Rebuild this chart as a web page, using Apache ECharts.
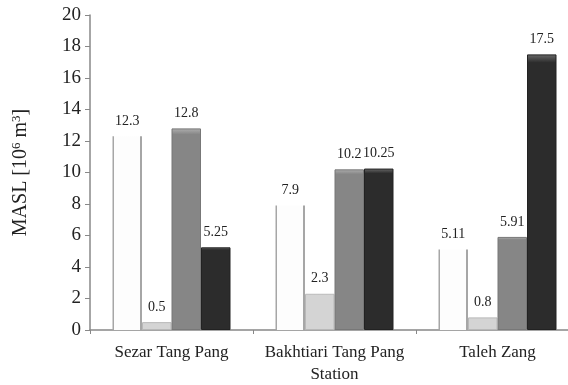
<!DOCTYPE html>
<html>
<head>
<meta charset="utf-8">
<script src="https://cdn.jsdelivr.net/npm/echarts@6/dist/echarts.min.js"></script>
<style>
  html, body { margin: 0; padding: 0; background: #fff; }
  #chart { width: 568px; height: 385px; }
</style>
</head>
<body>
<div id="chart"></div>
<script>
const stations = ['Sezar Tang Pang', 'Bakhtiari Tang Pang', 'Taleh Zang']
const seriesA = [12.3, 7.9, 5.11]
const seriesB = [0.5, 2.3, 0.8]
const seriesC = [12.8, 10.2, 5.91]
const seriesD = [5.25, 10.25, 17.5]
const yTicks = [0, 20, 2] // min, max, interval

const serif = 'Liberation Serif'

// simple top-lit look for the bars
const shade = (top, body) => ({
  type: 'linear', x: 0, y: 0, x2: 0, y2: 1,
  colorStops: [
    { offset: 0, color: top },
    { offset: 0.03, color: body },
    { offset: 1, color: body },
  ],
})

// open bar: only the two side edges are drawn
const sides = {
  type: 'linear', x: 0, y: 0, x2: 1, y2: 0,
  colorStops: [
    { offset: 0, color: '#a6a6a6' },
    { offset: 0.06, color: '#a6a6a6' },
    { offset: 0.06, color: '#fdfdfd' },
    { offset: 0.94, color: '#fdfdfd' },
    { offset: 0.94, color: '#a6a6a6' },
    { offset: 1, color: '#a6a6a6' },
  ],
}

const barLabel = {
  show: true,
  position: 'top',
  distance: 8,
  color: '#222',
  fontFamily: serif,
  fontSize: 14,
}

const mkSeries = (name, data, fill, border, bw) => ({
  type: 'bar',
  name: name,
  data: data,
  barWidth: 29.5,
  barGap: '0%',
  itemStyle: { color: fill, borderColor: border, borderWidth: bw },
  label: barLabel,
})

const chart = echarts.init(document.getElementById('chart'))
chart.setOption({
  backgroundColor: '#fff',
  animation: false,
  // plot runs a little past the right edge, like the cropped original
  grid: { left: 90, top: 15, width: 489, height: 315, containLabel: false, outerBoundsMode: 'none' },
  xAxis: {
    type: 'category',
    data: stations,
    name: 'Station',
    nameLocation: 'middle',
    nameGap: 31,
    nameTextStyle: { fontFamily: serif, fontSize: 17, color: '#222' },
    axisLine: { lineStyle: { color: '#888', width: 1.5 } },
    axisTick: { show: true, length: 4, lineStyle: { color: '#888' } },
    axisLabel: { interval: 0, fontFamily: serif, fontSize: 17, color: '#222', margin: 14 },
  },
  yAxis: {
    type: 'value',
    min: yTicks[0],
    max: yTicks[1],
    interval: yTicks[2],
    name: 'MASL [10{sup|6} m{sup|3}]',
    nameLocation: 'middle',
    nameGap: 58,
    nameTextStyle: {
      fontFamily: serif, fontSize: 20, color: '#222',
      rich: {
        sup: { fontFamily: serif, fontSize: 13, color: '#222', verticalAlign: 'top', padding: [0, 0, 9, 0] },
      },
    },
    splitLine: { show: false },
    axisLine: { show: true, lineStyle: { color: '#888', width: 1.5 } },
    axisTick: { show: true, length: 5, lineStyle: { color: '#888' } },
    axisLabel: { fontFamily: serif, fontSize: 19, color: '#222', margin: 9 },
  },
  series: [
    mkSeries('A', seriesA, sides, 'transparent', 0),
    mkSeries('B', seriesB, shade('#f4f4f4', '#d4d4d4'), '#b8b8b8', 1),
    mkSeries('C', seriesC, shade('#b0b0b0', '#868686'), '#777', 1),
    mkSeries('D', seriesD, shade('#6a6a6a', '#2c2c2c'), '#222', 1),
  ],
})
</script>
</body>
</html>
